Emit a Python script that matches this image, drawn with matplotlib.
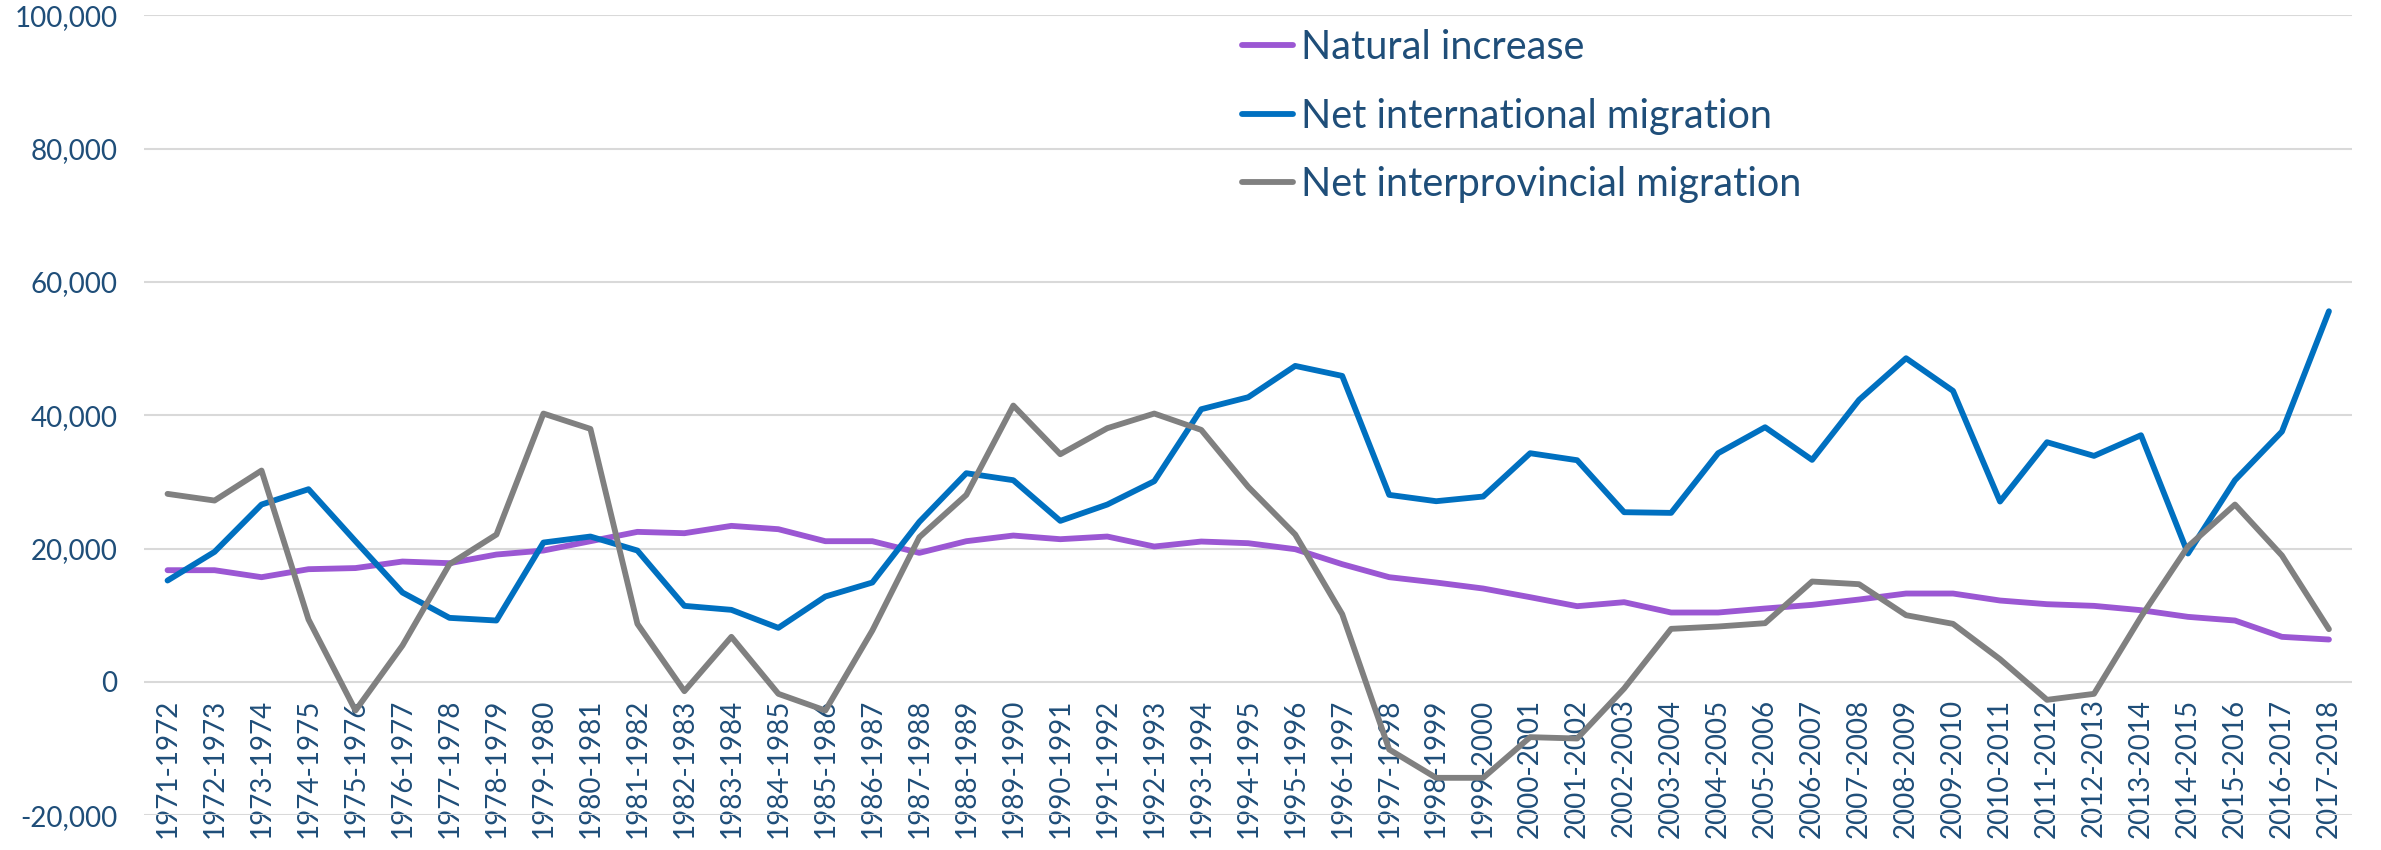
"""Components of population growth, 1971-1972 to 2017-2018."""

import matplotlib.pyplot as plt
from matplotlib.ticker import FuncFormatter

TEXT_COLOR = "#1F4E79"

periods = [f"{y}-{y + 1}" for y in range(1971, 2018)]

natural_increase = [
    16750, 16750, 15700, 16900, 17070, 18050, 17800, 19100, 19700, 21100,
    22500, 22300, 23400, 22900, 21100, 21100, 19350, 21100, 21950, 21400,
    21800, 20300, 21050, 20800, 19900, 17650, 15700, 14900, 14000, 12700,
    11350, 11950, 10400, 10400, 11000, 11550, 12350, 13250, 13250, 12200,
    11650, 11400, 10750, 9750, 9200, 6750, 6350,
]
net_international = [
    15200, 19500, 26600, 28900, 21100, 13400, 9600, 9200, 20900, 21800,
    19700, 11400, 10800, 8100, 12800, 14900, 24000, 31300, 30250, 24150,
    26600, 30100, 40900, 42700, 47400, 45900, 28050, 27100, 27800, 34300,
    33250, 25450, 25350, 34300, 38200, 33300, 42300, 48550, 43650, 27050,
    35950, 33900, 37000, 19250, 30250, 37550, 55600,
]
net_interprovincial = [
    28200, 27200, 31700, 9350, -4300, 5450, 17650, 22100, 40250, 37950,
    8700, -1400, 6750, -1800, -4300, 7700, 21700, 28050, 41450, 34150,
    38050, 40250, 37800, 29250, 22100, 10150, -10150, -14400, -14400, -8300,
    -8500, -1000, 7950, 8300, 8800, 15050, 14650, 10000, 8700, 3400,
    -2700, -1800, 9750, 20300, 26600, 18950, 7900,
]

series = [
    ("Natural increase", natural_increase, "#9B57D3"),
    ("Net international migration", net_international, "#0070C0"),
    ("Net interprovincial migration", net_interprovincial, "#808080"),
]


def main() -> None:
    plt.rcParams["font.family"] = ["Lato", "DejaVu Sans"]

    fig = plt.figure(figsize=(23.81, 8.5), dpi=100)
    ax = fig.add_axes([0.0605, 0.041, 0.9275, 0.941])

    # category axis crosses the value axis at zero, as in the spreadsheet
    for spine in ax.spines.values():
        spine.set_visible(False)
    ax.spines["bottom"].set_position(("data", 0))

    x = range(len(periods))
    for label, values, color in series:
        ax.plot(x, values, color=color, linewidth=4.2, label=label,
                solid_capstyle="round", solid_joinstyle="round")

    ax.set_xlim(-0.5, len(periods) - 0.5)
    ax.set_ylim(-20000, 100000)
    ax.set_yticks(range(-20000, 100001, 20000))
    ax.yaxis.set_major_formatter(FuncFormatter(lambda v, _: f"{v:,.0f}"))
    ax.set_xticks(list(x))
    ax.set_xticklabels(periods)

    ax.grid(axis="y", color="#D9D9D9", linewidth=1.5)
    ax.set_axisbelow(True)

    ax.tick_params(axis="y", length=0, pad=19, labelsize=20, labelcolor=TEXT_COLOR)
    ax.tick_params(axis="x", length=0, pad=12, labelsize=20, labelcolor=TEXT_COLOR,
                   labelrotation=90)

    leg = ax.legend(
        loc="upper left",
        bbox_to_anchor=(1242 / 2381, 1 - 29 / 850),
        bbox_transform=fig.transFigure,
        frameon=False,
        fontsize=28.5,
        handlelength=1.3,
        handletextpad=0.2,
        labelspacing=0.8,
        borderpad=0,
        borderaxespad=0,
    )
    for text in leg.get_texts():
        text.set_color(TEXT_COLOR)

    fig.savefig("out.png", dpi=100)


if __name__ == "__main__":
    main()
